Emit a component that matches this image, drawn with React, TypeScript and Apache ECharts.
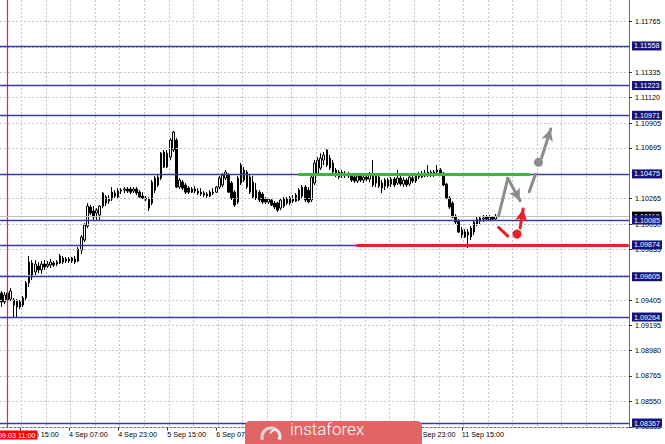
import React, { useEffect, useRef } from "react";
import * as echarts from "echarts";

// ---------- categories (hourly bars, weekend skipped) ----------
const tradingDays = [3, 4, 5, 6, 9, 10, 11, 12, 13];
const firstHour = 9;
const slotCount = 205;
const lastDataIndex = 161;
// time labels that sit fully under the broker logo in the reference
const hiddenLabelIndices = [86, 102, 118];

// ---------- price axis ----------
const Y_MIN = 1.08329;
const Y_MAX = 1.11947;
const yGridLabels = [
  "1.11765", "1.11550", "1.11335", "1.11120", "1.10905", "1.10695",
  "1.10475", "1.10265", "1.10050", "1.09835", "1.09620", "1.09405",
  "1.09195", "1.08980", "1.08765", "1.08550", "1.08335",
];
// tick labels that are fully covered by level boxes in the reference
const coveredTickLabels = ["1.11550", "1.10475", "1.09620"];
const levelValues = [1.11558, 1.11223, 1.10971, 1.10475, 1.10085, 1.09874, 1.09605, 1.09264, 1.08367];
const bidPrice = 1.10118;
const redLineTime = "3 Sep 11:00";
const redLineLabel = "2019.09.03 11:00";

// ---------- candles [open, close, low, high] ----------
const sep03 = [
  [1.09467, 1.09391, 1.09349, 1.09484], [1.09391, 1.0945, 1.09374, 1.09475],
  [1.09467, 1.09408, 1.09366, 1.09484], [1.09416, 1.09484, 1.09399, 1.09509],
  [1.09408, 1.09366, 1.09264, 1.09425], [1.09399, 1.09349, 1.09255, 1.09416],
  [1.09349, 1.09391, 1.09332, 1.09408], [1.09366, 1.09425, 1.09349, 1.09442],
  [1.09425, 1.09552, 1.09408, 1.09569], [1.09552, 1.09729, 1.09518, 1.0978],
  [1.09721, 1.09602, 1.09577, 1.09746], [1.09645, 1.09712, 1.09619, 1.09746],
  [1.09695, 1.09662, 1.09636, 1.09729], [1.09662, 1.09712, 1.09628, 1.09738],
  [1.09712, 1.09687, 1.09662, 1.09746],
];
const sep04 = [
  [1.09695, 1.09712, 1.09679, 1.09738], [1.09704, 1.09729, 1.09679, 1.09755],
  [1.09721, 1.09704, 1.09687, 1.09738], [1.09712, 1.09729, 1.09695, 1.09746],
  [1.09721, 1.0978, 1.09712, 1.09797], [1.09763, 1.09729, 1.09712, 1.0978],
  [1.09738, 1.09755, 1.09721, 1.09772], [1.09755, 1.09738, 1.09721, 1.09772],
  [1.09738, 1.09763, 1.09721, 1.09772], [1.09755, 1.09729, 1.09712, 1.0978],
  [1.09738, 1.09839, 1.09729, 1.09856], [1.09831, 1.09941, 1.09797, 1.09958],
  [1.09915, 1.10042, 1.09898, 1.10059], [1.10034, 1.10203, 1.10017, 1.10228],
  [1.10195, 1.10144, 1.10127, 1.10212], [1.10161, 1.1011, 1.10085, 1.10203],
  [1.10144, 1.10169, 1.10085, 1.10186], [1.10127, 1.10203, 1.10085, 1.10212],
  [1.10203, 1.10313, 1.10186, 1.10321], [1.10279, 1.10228, 1.10203, 1.10296],
  [1.10245, 1.10271, 1.1022, 1.10296], [1.10262, 1.10321, 1.10245, 1.10364],
  [1.10313, 1.10288, 1.10271, 1.10338], [1.10279, 1.1033, 1.10262, 1.10355],
];
const sep05 = [
  [1.1033, 1.10338, 1.10305, 1.10355], [1.10338, 1.10347, 1.10313, 1.10364],
  [1.10347, 1.1033, 1.10313, 1.10364], [1.10347, 1.10321, 1.10305, 1.10364],
  [1.1033, 1.10347, 1.10313, 1.10364], [1.10347, 1.10313, 1.10296, 1.10364],
  [1.10321, 1.10279, 1.10271, 1.10338], [1.10288, 1.10271, 1.10262, 1.10321],
  [1.10271, 1.10262, 1.10245, 1.10288], [1.10262, 1.10186, 1.10161, 1.10279],
  [1.10228, 1.10406, 1.10212, 1.10423], [1.10338, 1.1044, 1.10313, 1.10457],
  [1.10381, 1.10448, 1.10364, 1.10465], [1.1044, 1.10651, 1.10423, 1.1066],
  [1.10533, 1.1066, 1.10525, 1.10677], [1.10651, 1.10533, 1.10525, 1.10677],
  [1.10618, 1.10761, 1.10592, 1.10778], [1.10677, 1.10829, 1.1066, 1.10838],
  [1.10761, 1.10364, 1.10355, 1.10778], [1.10364, 1.10423, 1.10347, 1.1044],
  [1.10406, 1.10355, 1.10338, 1.10423], [1.10381, 1.10321, 1.10305, 1.10398],
  [1.10355, 1.10321, 1.10305, 1.10372], [1.10321, 1.10347, 1.10313, 1.10364],
];
const sep06 = [
  [1.10347, 1.1033, 1.10313, 1.10372], [1.1033, 1.10313, 1.10296, 1.10355],
  [1.10321, 1.10305, 1.10288, 1.10355], [1.10313, 1.10296, 1.10279, 1.1033],
  [1.10305, 1.10288, 1.10271, 1.10321], [1.10288, 1.10321, 1.10279, 1.10338],
  [1.10321, 1.10313, 1.10296, 1.10355], [1.10321, 1.10364, 1.10313, 1.10372],
  [1.10364, 1.1044, 1.10347, 1.10457], [1.10381, 1.10465, 1.10364, 1.10482],
  [1.1044, 1.10491, 1.10423, 1.10508], [1.10465, 1.10321, 1.10313, 1.10482],
  [1.10398, 1.10271, 1.10254, 1.10415], [1.10321, 1.10212, 1.10195, 1.10338],
  [1.10237, 1.1044, 1.1022, 1.10457], [1.10398, 1.1055, 1.10381, 1.10567],
  [1.10508, 1.10423, 1.10406, 1.10533], [1.10491, 1.10364, 1.10347, 1.10508],
  [1.10448, 1.10321, 1.10305, 1.10465], [1.10406, 1.10279, 1.10271, 1.10457],
  [1.10338, 1.10271, 1.10254, 1.10398], [1.10321, 1.10254, 1.10237, 1.10338],
  [1.10305, 1.10237, 1.1022, 1.10321], [1.10262, 1.10237, 1.1022, 1.10279],
];
const sep09 = [
  [1.10237, 1.10262, 1.1022, 1.10271], [1.10254, 1.10212, 1.10203, 1.10262],
  [1.10228, 1.10195, 1.10178, 1.10245], [1.10228, 1.10169, 1.10152, 1.10237],
  [1.10186, 1.10254, 1.10169, 1.10262], [1.10203, 1.10262, 1.10186, 1.10279],
  [1.10262, 1.10228, 1.10212, 1.10279], [1.10228, 1.10271, 1.10212, 1.10288],
  [1.10262, 1.10245, 1.10228, 1.10296], [1.10245, 1.10296, 1.10237, 1.10313],
  [1.10254, 1.10338, 1.10245, 1.10355], [1.10288, 1.10364, 1.10271, 1.10381],
  [1.10364, 1.10254, 1.10237, 1.10381], [1.10338, 1.10237, 1.10228, 1.10364],
  [1.10254, 1.10448, 1.10237, 1.10465], [1.10398, 1.10567, 1.10381, 1.10592],
  [1.10482, 1.10592, 1.10465, 1.10618], [1.10525, 1.10609, 1.10508, 1.10651],
  [1.10592, 1.10635, 1.1055, 1.1066], [1.1055, 1.10677, 1.10533, 1.10685],
  [1.10609, 1.10525, 1.10508, 1.10635], [1.10567, 1.10491, 1.10474, 1.10592],
  [1.10508, 1.10465, 1.10448, 1.10525], [1.10491, 1.10448, 1.10431, 1.10508],
];
const sep10 = [
  [1.10457, 1.10491, 1.1044, 1.10508], [1.10482, 1.10457, 1.1044, 1.10499],
  [1.10457, 1.10474, 1.1044, 1.10491], [1.10465, 1.10423, 1.10406, 1.10482],
  [1.10448, 1.10415, 1.10398, 1.10465], [1.10415, 1.10457, 1.10398, 1.10474],
  [1.10457, 1.10423, 1.10406, 1.10474], [1.10423, 1.10448, 1.10398, 1.10465],
  [1.10448, 1.10431, 1.10415, 1.10465], [1.10431, 1.10465, 1.10406, 1.10491],
  [1.10474, 1.10381, 1.10364, 1.10592], [1.10398, 1.10457, 1.10364, 1.10474],
  [1.10448, 1.10372, 1.10355, 1.10465], [1.10398, 1.10355, 1.10313, 1.10423],
  [1.10372, 1.10423, 1.10338, 1.1044], [1.10423, 1.10372, 1.10355, 1.1044],
  [1.10389, 1.10431, 1.10364, 1.10448], [1.10431, 1.10381, 1.10364, 1.10448],
  [1.10398, 1.1044, 1.10381, 1.10508], [1.1044, 1.10389, 1.10372, 1.10457],
  [1.10389, 1.10423, 1.10364, 1.10448], [1.10423, 1.10381, 1.10364, 1.1044],
  [1.10389, 1.10448, 1.10372, 1.10465], [1.1044, 1.10415, 1.10398, 1.10465],
];
const sep11 = [
  [1.10415, 1.10465, 1.10398, 1.10482], [1.10465, 1.10448, 1.10431, 1.10491],
  [1.10448, 1.10482, 1.1044, 1.10499], [1.10482, 1.10457, 1.10448, 1.10508],
  [1.10465, 1.10491, 1.10448, 1.1055], [1.10491, 1.10465, 1.10448, 1.10508],
  [1.10465, 1.10491, 1.10448, 1.10508], [1.10491, 1.10508, 1.10465, 1.1055],
  [1.10508, 1.10482, 1.10465, 1.10525], [1.10482, 1.10381, 1.10372, 1.10491],
  [1.10389, 1.10271, 1.10262, 1.10398], [1.10271, 1.10195, 1.10178, 1.10288],
  [1.10228, 1.1011, 1.10102, 1.10245], [1.10118, 1.10068, 1.10051, 1.10135],
  [1.10076, 1.09983, 1.09975, 1.10093], [1.1, 1.09958, 1.09932, 1.10025],
  [1.09983, 1.09941, 1.09932, 1.10008], [1.09958, 1.09983, 1.09848, 1.10008],
  [1.09941, 1.10017, 1.09915, 1.10034], [1.09983, 1.10068, 1.09958, 1.10085],
  [1.10051, 1.10093, 1.10034, 1.1011], [1.10076, 1.10102, 1.10051, 1.10118],
  [1.10093, 1.10102, 1.10068, 1.10127], [1.1011, 1.10093, 1.10076, 1.10127],
];
const sep12 = [
  [1.10085, 1.1011, 1.10076, 1.10127], [1.1011, 1.10093, 1.10076, 1.10118],
  [1.10093, 1.10118, 1.10085, 1.10135],
];

// ---------- annotations: [categoryIndex, price] ----------
const greenResistance = [[97, 1.10475], [172, 1.10475]];
const redSupport = [[116, 1.09874], [204, 1.09874]];
const greyZigzag = [[162, 1.10119], [165, 1.10438], [169, 1.10248]];
const greyBreakLeg = [[172, 1.10324], [174, 1.10472]];
const greyDot = [175, 1.10573];
const greyUpArrow = [[176, 1.1061], [179, 1.10855]];
const redDashLeg = [[162, 1.10023], [165, 1.09949]];
const redDot = [168, 1.09966];
const redUpArrow = [[169, 1.10017], [170, 1.10178]];

const FONT = "Liberation Sans";
const GREY = "#8c8c8c";
const RED = "#e8202a";

export default function App() {
  const ref = useRef<HTMLDivElement>(null);

  useEffect(() => {
    if (!ref.current) return;
    const chart = echarts.init(ref.current, undefined, { renderer: "svg" });

    const categories: string[] = [];
    for (const d of tradingDays) {
      for (let h = d === tradingDays[0] ? firstHour : 0; h < 24 && categories.length < slotCount; h++) {
        categories.push(`${d} Sep ${String(h).padStart(2, "0")}:00`);
      }
    }
    const candles = [...sep03, ...sep04, ...sep05, ...sep06, ...sep09, ...sep10, ...sep11, ...sep12];
    const yGridValues = yGridLabels.map((s) => parseFloat(s));
    const yLabelValues = yGridLabels.filter((s) => coveredTickLabels.indexOf(s) < 0).map((s) => parseFloat(s));

    const tickInterval = (i: number) => i <= lastDataIndex && (i - 6) % 16 === 0;
    const labelInterval = (i: number) => tickInterval(i) && hiddenLabelIndices.indexOf(i) < 0;
    const gridInterval = (i: number) => (i - 7) % 8 === 0;

    const boxLabel = (text: string, bg: string) => ({
      show: true,
      position: "end",
      formatter: text,
      color: "#fff",
      backgroundColor: bg,
      padding: [1, 2, 0, 2],
      fontSize: 7.2,
      lineHeight: 8,
      fontFamily: FONT,
      distance: 3,
    });

    const seg = (pts: number[][], color: string, width: number, arrow: boolean) => [
      { coord: pts[0], symbol: "none", lineStyle: { color, width, type: "solid", cap: "round" } },
      arrow
        ? { coord: pts[1], symbol: "arrow", symbolSize: [9, 12] }
        : { coord: pts[1], symbol: "none" },
    ];

    const option: any = {
      animation: false,
      backgroundColor: "#ffffff",
      textStyle: { fontFamily: FONT },
      grid: { left: 0, right: 36, top: 0, bottom: 16.5, containLabel: false },
      xAxis: {
        type: "category",
        data: categories,
        boundaryGap: true,
        axisLine: { show: true, lineStyle: { color: "#6e6e6e", width: 1 } },
        axisTick: { show: true, alignWithLabel: true, length: 3, interval: tickInterval, lineStyle: { color: "#333" } },
        axisLabel: { interval: labelInterval, align: "left", margin: 3, fontSize: 7.2, color: "#000", fontFamily: FONT },
        splitLine: { show: true, interval: gridInterval, lineStyle: { color: "#c4c4c4", type: [2, 2], width: 1 } },
      },
      yAxis: {
        type: "value",
        position: "right",
        min: Y_MIN,
        max: Y_MAX,
        axisLine: { show: true, onZero: false, lineStyle: { color: "#6e6e6e", width: 1 } },
        axisTick: { show: true, length: 3, customValues: yLabelValues, lineStyle: { color: "#333" } },
        axisLabel: {
          customValues: yLabelValues,
          formatter: (v: number) => v.toFixed(5),
          margin: 6,
          fontSize: 7.2,
          color: "#000",
          fontFamily: FONT,
        },
        splitLine: { show: false },
      },
      series: [
        {
          name: "levels",
          type: "line",
          data: [],
          z: 1,
          silent: true,
          markLine: {
            silent: true,
            precision: 5,
            symbol: ["none", "none"],
            data: [
              ...yGridValues.map((v) => ({
                yAxis: v,
                lineStyle: { color: "#c4c4c4", type: [2, 2], width: 1 },
                label: { show: false },
              })),
              {
                xAxis: redLineTime,
                lineStyle: { color: "#ff1f1f", type: "solid", width: 1.2 },
                label: {
                  show: true,
                  position: "start",
                  formatter: redLineLabel,
                  color: "#fff",
                  backgroundColor: "#ff0000",
                  padding: [1, 2, 0, 2],
                  fontSize: 7.2,
                  lineHeight: 8,
                  fontFamily: FONT,
                  distance: 3,
                },
              },
              {
                yAxis: bidPrice,
                lineStyle: { color: "#c0c0c0", type: "solid", width: 1 },
                label: boxLabel(bidPrice.toFixed(5), "#000000"),
              },
              ...levelValues.map((v) => ({
                yAxis: v,
                lineStyle: { color: "#3a3aa6", type: "solid", width: 1.3 },
                label: boxLabel(v.toFixed(5), "#14147c"),
              })),
            ],
          },
        },
        {
          name: "EURUSD",
          type: "candlestick",
          data: candles,
          z: 3,
          silent: true,
          barWidth: 2,
          itemStyle: { color: "#ffffff", color0: "#000000", borderColor: "#000000", borderColor0: "#000000", borderWidth: 1 },
        },
        {
          name: "plan",
          type: "line",
          data: [],
          z: 5,
          silent: true,
          markLine: {
            silent: true,
            precision: 5,
            symbol: ["none", "none"],
            label: { show: false },
            data: [
              seg(greenResistance, "#3ab83a", 3, false),
              seg(redSupport, RED, 3, false),
              seg([greyZigzag[0], greyZigzag[1]], GREY, 3, false),
              seg([greyZigzag[1], greyZigzag[2]], GREY, 3, true),
              seg(greyBreakLeg, GREY, 3, false),
              seg(greyUpArrow, GREY, 3, true),
              seg(redDashLeg, RED, 3, false),
              seg(redUpArrow, RED, 3, true),
            ],
          },
          markPoint: {
            silent: true,
            symbol: "circle",
            symbolSize: 9,
            label: { show: false },
            data: [
              { coord: greyDot, itemStyle: { color: GREY } },
              { coord: redDot, itemStyle: { color: RED } },
            ],
          },
        },
      ],
      graphic: [
        { type: "rect", z: 100, shape: { x: 245, y: 421, width: 177, height: 30, r: 5 }, style: { fill: "#e16565" } },
        { type: "arc", z: 101, shape: { cx: 271, cy: 437, r: 9, startAngle: Math.PI * 0.9, endAngle: Math.PI * 2.1 }, style: { stroke: "#d8d8d8", lineWidth: 3, fill: "none" } },
        { type: "arc", z: 101, shape: { cx: 275, cy: 435, r: 5, startAngle: Math.PI * 1.1, endAngle: Math.PI * 2.3 }, style: { stroke: "#ececec", lineWidth: 2, fill: "none" } },
        {
          type: "text",
          z: 102,
          x: 290,
          y: 429,
          style: { text: "instaforex", fill: "#ffffff", fontSize: 17, fontFamily: "Roboto", fontWeight: 300, verticalAlign: "middle", align: "left" },
        },
      ],
    };

    chart.setOption(option);
    return () => chart.dispose();
  }, []);

  return <div ref={ref} style={{ position: "absolute", left: 0, top: 0, width: 665, height: 444 }} />;
}
